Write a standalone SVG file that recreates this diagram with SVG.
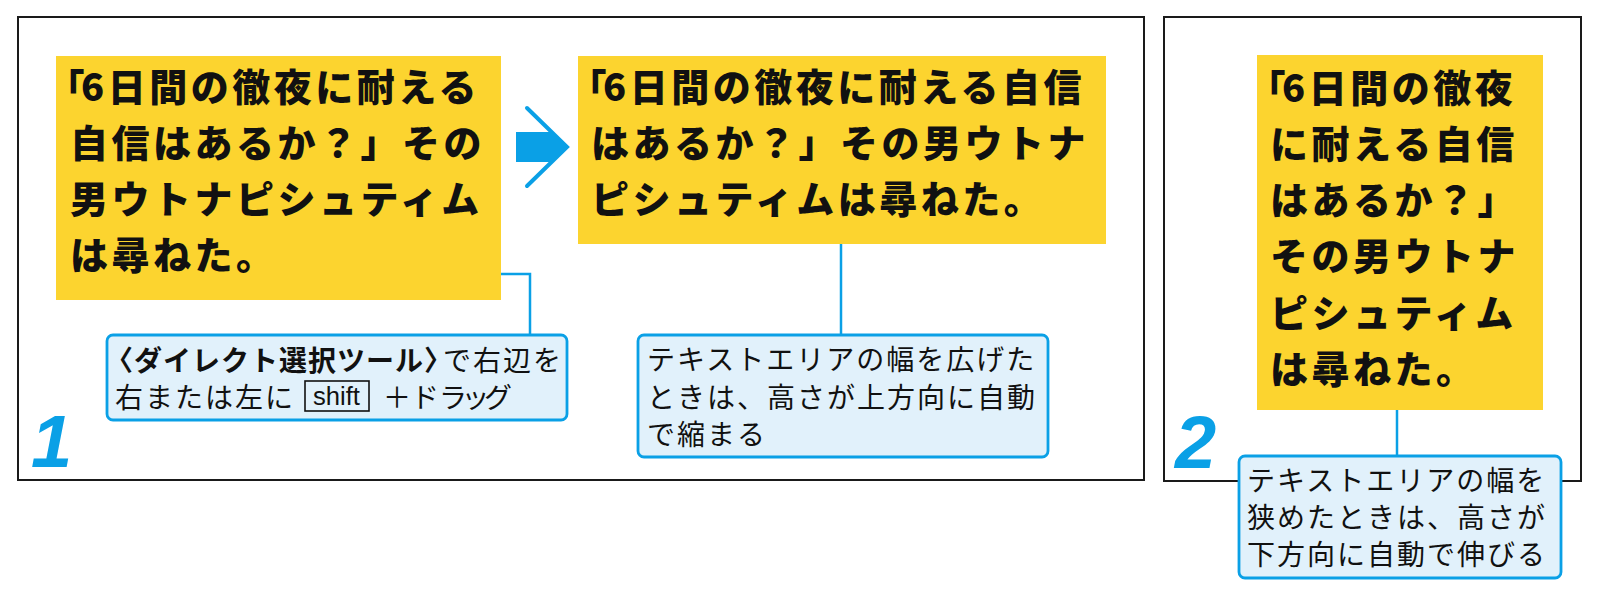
<svg xmlns="http://www.w3.org/2000/svg" width="1600" height="597" viewBox="0 0 1600 597">
<style>
.frame{fill:none;stroke:#1a1a1a;stroke-width:2}
.yel{fill:#FCD42F}
.big{font-family:"Noto Sans CJK JP","Noto Sans CJK SC",sans-serif;font-weight:900;font-size:38px;letter-spacing:3.5px;fill:#111}
.call{fill:#E1F1FB;stroke:#0AA0E6;stroke-width:2.8}
.ct{font-family:"Noto Sans CJK JP","Noto Sans CJK SC",sans-serif;font-weight:400;font-size:28px;letter-spacing:2px;fill:#111}
.conn{fill:none;stroke:#0AA0E6;stroke-width:2.5}
.num{font-family:"Liberation Sans",Arial,sans-serif;font-weight:700;font-style:italic;font-size:74px;fill:#0AA0E6}
</style>
<rect class="frame" x="18" y="17" width="1126" height="463"/>
<rect class="frame" x="1164" y="17" width="417" height="464"/>
<g id="connectors">
<polyline class="conn" points="501,274 530,274 530,336"/>
<line class="conn" x1="841" y1="244" x2="841" y2="336"/>
<line class="conn" x1="1397" y1="410" x2="1397" y2="457"/>
</g>
<g id="arrow">
<polygon points="516,132 551,132 566,147 551,162 516,162" fill="#0AA0E6"/>
<polyline points="527,108 567,147 527,186" fill="none" stroke="#0AA0E6" stroke-width="4" stroke-linecap="round" stroke-linejoin="miter"/>
</g>
<g id="box1">
<rect class="yel" x="56" y="56" width="445" height="244"/>
<text class="big"><tspan x="46.5" y="101">「<tspan dx="-7">6日間の徹夜に耐える</tspan></tspan><tspan x="70" y="157">自信はあるか？」その</tspan><tspan x="70" y="213">男ウトナピシュティム</tspan><tspan x="70" y="269">は尋ねた。</tspan></text>
</g>
<g id="box2">
<rect class="yel" x="578" y="56" width="528" height="188"/>
<text class="big"><tspan x="568.5" y="101">「<tspan dx="-7">6日間の徹夜に耐える自信</tspan></tspan><tspan x="591" y="157">はあるか？」その男ウトナ</tspan><tspan x="591" y="213">ピシュティムは尋ねた。</tspan></text>
</g>
<g id="box3">
<rect class="yel" x="1257" y="55" width="286" height="355"/>
<text class="big"><tspan x="1247.5" y="102">「<tspan dx="-7">6日間の徹夜</tspan></tspan><tspan x="1270" y="158">に耐える自信</tspan><tspan x="1270" y="214">はあるか？」</tspan><tspan x="1270" y="270">その男ウトナ</tspan><tspan x="1270" y="326.5">ピシュティム</tspan><tspan x="1270" y="383">は尋ねた。</tspan></text>
</g>
<g id="callout1">
<rect class="call" x="107" y="335" width="460" height="85" rx="6"/>
<text class="ct" x="105" y="371"><tspan font-weight="700" letter-spacing="1">〈ダイレクト選択ツール〉</tspan><tspan dx="-10">で右辺を</tspan></text>
<text class="ct" x="115" y="408">右または左に</text>
<rect x="305" y="381" width="64" height="30" fill="none" stroke="#111" stroke-width="1.6"/>
<text x="313" y="405" font-family="Liberation Sans, Arial, sans-serif" font-size="25" fill="#111" textLength="47" lengthAdjust="spacingAndGlyphs">shift</text>
<text class="ct" x="383" y="408" style="letter-spacing:0px">＋ド<tspan style="letter-spacing:-5.5px">ラッグ</tspan></text>
</g>
<g id="callout2">
<rect class="call" x="638" y="335" width="410" height="122" rx="6"/>
<text class="ct"><tspan x="647" y="370">テキストエリアの幅を広げた</tspan><tspan x="647" y="407.5">ときは、高さが上方向に自動</tspan><tspan x="647" y="445">で縮まる</tspan></text>
</g>
<g id="callout3">
<rect class="call" x="1239" y="456" width="322" height="122" rx="6"/>
<text class="ct"><tspan x="1247" y="491">テキストエリアの幅を</tspan><tspan x="1247" y="528">狭めたときは、高さが</tspan><tspan x="1247" y="565">下方向に自動で伸びる</tspan></text>
</g>
<g id="label1"><text class="num" x="31" y="467">1</text></g>
<g id="label2"><text class="num" x="1175" y="468">2</text></g>
</svg>
